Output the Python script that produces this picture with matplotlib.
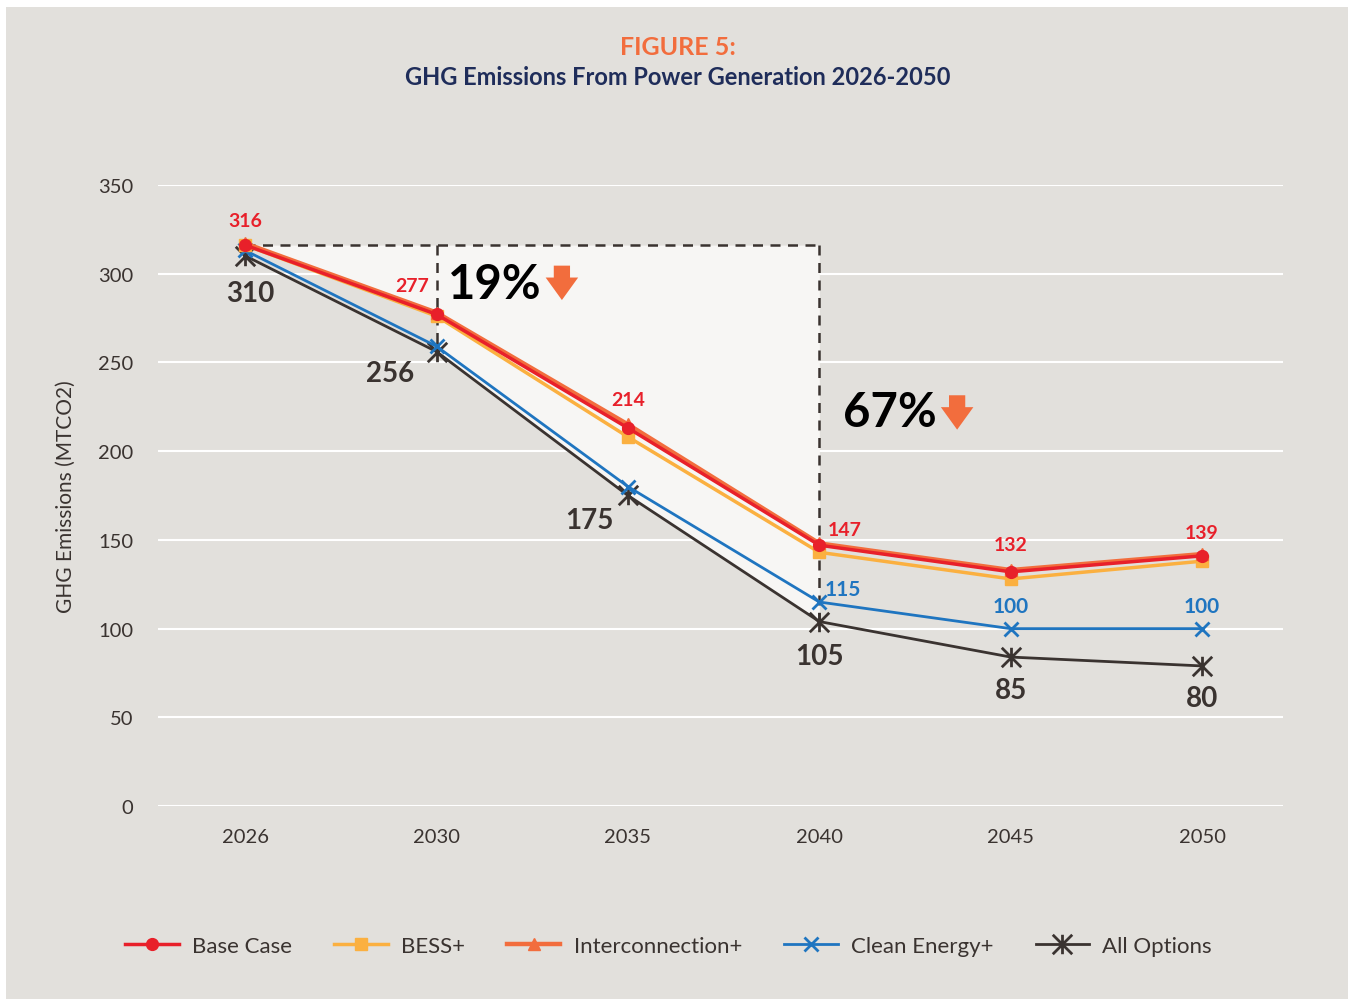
import numpy as np
import matplotlib.pyplot as plt
from matplotlib.path import Path
from matplotlib.patches import Rectangle

plt.rcParams['font.family'] = ['Lato', 'DejaVu Sans']

# Datos
anios = ["2026", "2030", "2035", "2040", "2045", "2050"]
base_case = [316, 277, 213, 147, 132, 141]
bess = [316, 276, 208, 143, 128, 138]
interconexion = [317, 278, 215, 148, 133, 142]
clean_energy = [313, 259, 180, 115, 100, 100]
all_options = [310, 256, 175, 104, 84, 79]

etiquetas_rojas = ["316", "277", "214", "147", "132", "139"]
etiquetas_azules = ["115", "100", "100"]
etiquetas_oscuras = ["310", "256", "175", "105", "85", "80"]

GRIS = "#e2e0dc"
ROJO = "#e8202a"
AMARILLO = "#fbb040"
NARANJA = "#f26d3d"
AZUL = "#1f75c0"
OSCURO = "#3a3330"

x = np.arange(len(anios))

fig = plt.figure(figsize=(13.51, 10.04), dpi=100, facecolor="white")
fig.patches.append(Rectangle((6 / 1351, 4 / 1004), 1342 / 1351, 992 / 1004,
                             transform=fig.transFigure, facecolor=GRIS,
                             edgecolor="none", zorder=-10))

ax = fig.add_axes([0.117, 0.196, 0.833, 0.619])
ax.set_facecolor(GRIS)
ax.set_xlim(-0.455, 5.425)
ax.set_ylim(0, 350)

# zona sombreada
tope = base_case[0]
ax.fill_between(x[0:2], base_case[0:2], tope, color="#f7f6f4", zorder=1, lw=0)
ax.fill_between(x[1:4], all_options[1:4], tope, color="#f7f6f4", zorder=1, lw=0)

ax.set_yticks(np.arange(0, 351, 50))
ax.grid(axis="y", color="white", lw=1.5, zorder=0.5)
ax.set_axisbelow(True)
for s in ax.spines.values():
    s.set_visible(False)
ax.tick_params(length=0, labelsize=14.5, labelcolor=OSCURO)
ax.tick_params(axis="x", pad=16)
ax.tick_params(axis="y", pad=18)
ax.set_xticks(x)
ax.set_xticklabels(anios)
ax.set_ylabel("GHG Emissions (MTCO2)", fontsize=15, color=OSCURO, labelpad=16)

# lineas punteadas
ax.plot([x[0], x[3]], [tope, tope], ls=(0, (4, 3)), color=OSCURO, lw=1.8, zorder=2)
ax.plot([x[1], x[1]], [tope, all_options[1]], ls=(0, (4, 3)), color=OSCURO, lw=1.8, zorder=2)
ax.plot([x[3], x[3]], [tope, all_options[3]], ls=(0, (4, 3)), color=OSCURO, lw=1.8, zorder=2)

asterisco = Path([(0, -1), (0, 1), (-1, -1), (1, 1), (-1, 1), (1, -1)],
                 [Path.MOVETO, Path.LINETO, Path.MOVETO, Path.LINETO, Path.MOVETO, Path.LINETO])

ax.plot(x, all_options, color=OSCURO, lw=2, marker=asterisco, ms=14, mew=2,
        label="All Options", zorder=3)
ax.plot(x, clean_energy, color=AZUL, lw=2, marker="x", ms=10, mew=2,
        label="Clean Energy+", zorder=4)
ax.plot(x, bess, color=AMARILLO, lw=2.5, marker="s", ms=8,
        label="BESS+", zorder=5)
ax.plot(x, interconexion, color=NARANJA, lw=3.2, marker="^", ms=8,
        label="Interconnection+", zorder=6)
ax.plot(x, base_case, color=ROJO, lw=2.5, marker="o", ms=8.5,
        label="Base Case", zorder=7)

# etiquetas
off_rojo = [(0, 25), (-24, 29), (0, 29), (25, 16), (0, 27), (0, 23)]
for i, t in enumerate(etiquetas_rojas):
    ax.annotate(t, (x[i], base_case[i]), xytext=off_rojo[i], textcoords="offset pixels",
                ha="center", va="center", fontsize=14, fontweight="bold", color=ROJO, zorder=8)

off_azul = [(23, 13), (0, 23), (0, 23)]
for j, t in enumerate(etiquetas_azules):
    i = j + 3
    ax.annotate(t, (x[i], clean_energy[i]), xytext=off_azul[j], textcoords="offset pixels",
                ha="center", va="center", fontsize=15, fontweight="bold", color=AZUL, zorder=8)

off_oscuro = [(5, -37), (-46, -21), (-39, -25), (0, -34), (0, -33), (0, -32)]
for i, t in enumerate(etiquetas_oscuras):
    ax.annotate(t, (x[i], all_options[i]), xytext=off_oscuro[i], textcoords="offset pixels",
                ha="center", va="center", fontsize=20, fontweight="bold", color=OSCURO, zorder=8)

# porcentajes y flechas
ax.text(1.305, 294, "19%", fontsize=34, fontweight="bold", color="black",
        ha="center", va="center", zorder=8)
ax.text(3.37, 222, "67%", fontsize=34, fontweight="bold", color="black",
        ha="center", va="center", zorder=8)
estilo = dict(arrowstyle="simple,head_width=1.3,head_length=0.9,tail_width=0.65",
              color=NARANJA, lw=0, mutation_scale=18)
ax.annotate("", xy=(1.655, 283.5), xytext=(1.655, 306), arrowprops=estilo, zorder=8)
ax.annotate("", xy=(3.72, 210.5), xytext=(3.72, 233), arrowprops=estilo, zorder=8)

# titulo
fig.text(0.502, 0.953, "FIGURE 5:", ha="center", va="center", fontsize=18,
         fontweight="bold", color=NARANJA)
fig.text(0.502, 0.923, "GHG Emissions From Power Generation 2026-2050", ha="center",
         va="center", fontsize=17, fontweight="bold", color="#1f2d5a")

handles, labels = ax.get_legend_handles_labels()
orden = [4, 2, 3, 1, 0]
leg = fig.legend([handles[k] for k in orden], [labels[k] for k in orden],
                 loc="center", bbox_to_anchor=(0.495, 0.057), ncol=5, frameon=False,
                 fontsize=16, handlelength=2.4, columnspacing=1.9, handletextpad=0.6)
for t in leg.get_texts():
    t.set_color(OSCURO)

fig.savefig("out.png", dpi=100, facecolor="white")
